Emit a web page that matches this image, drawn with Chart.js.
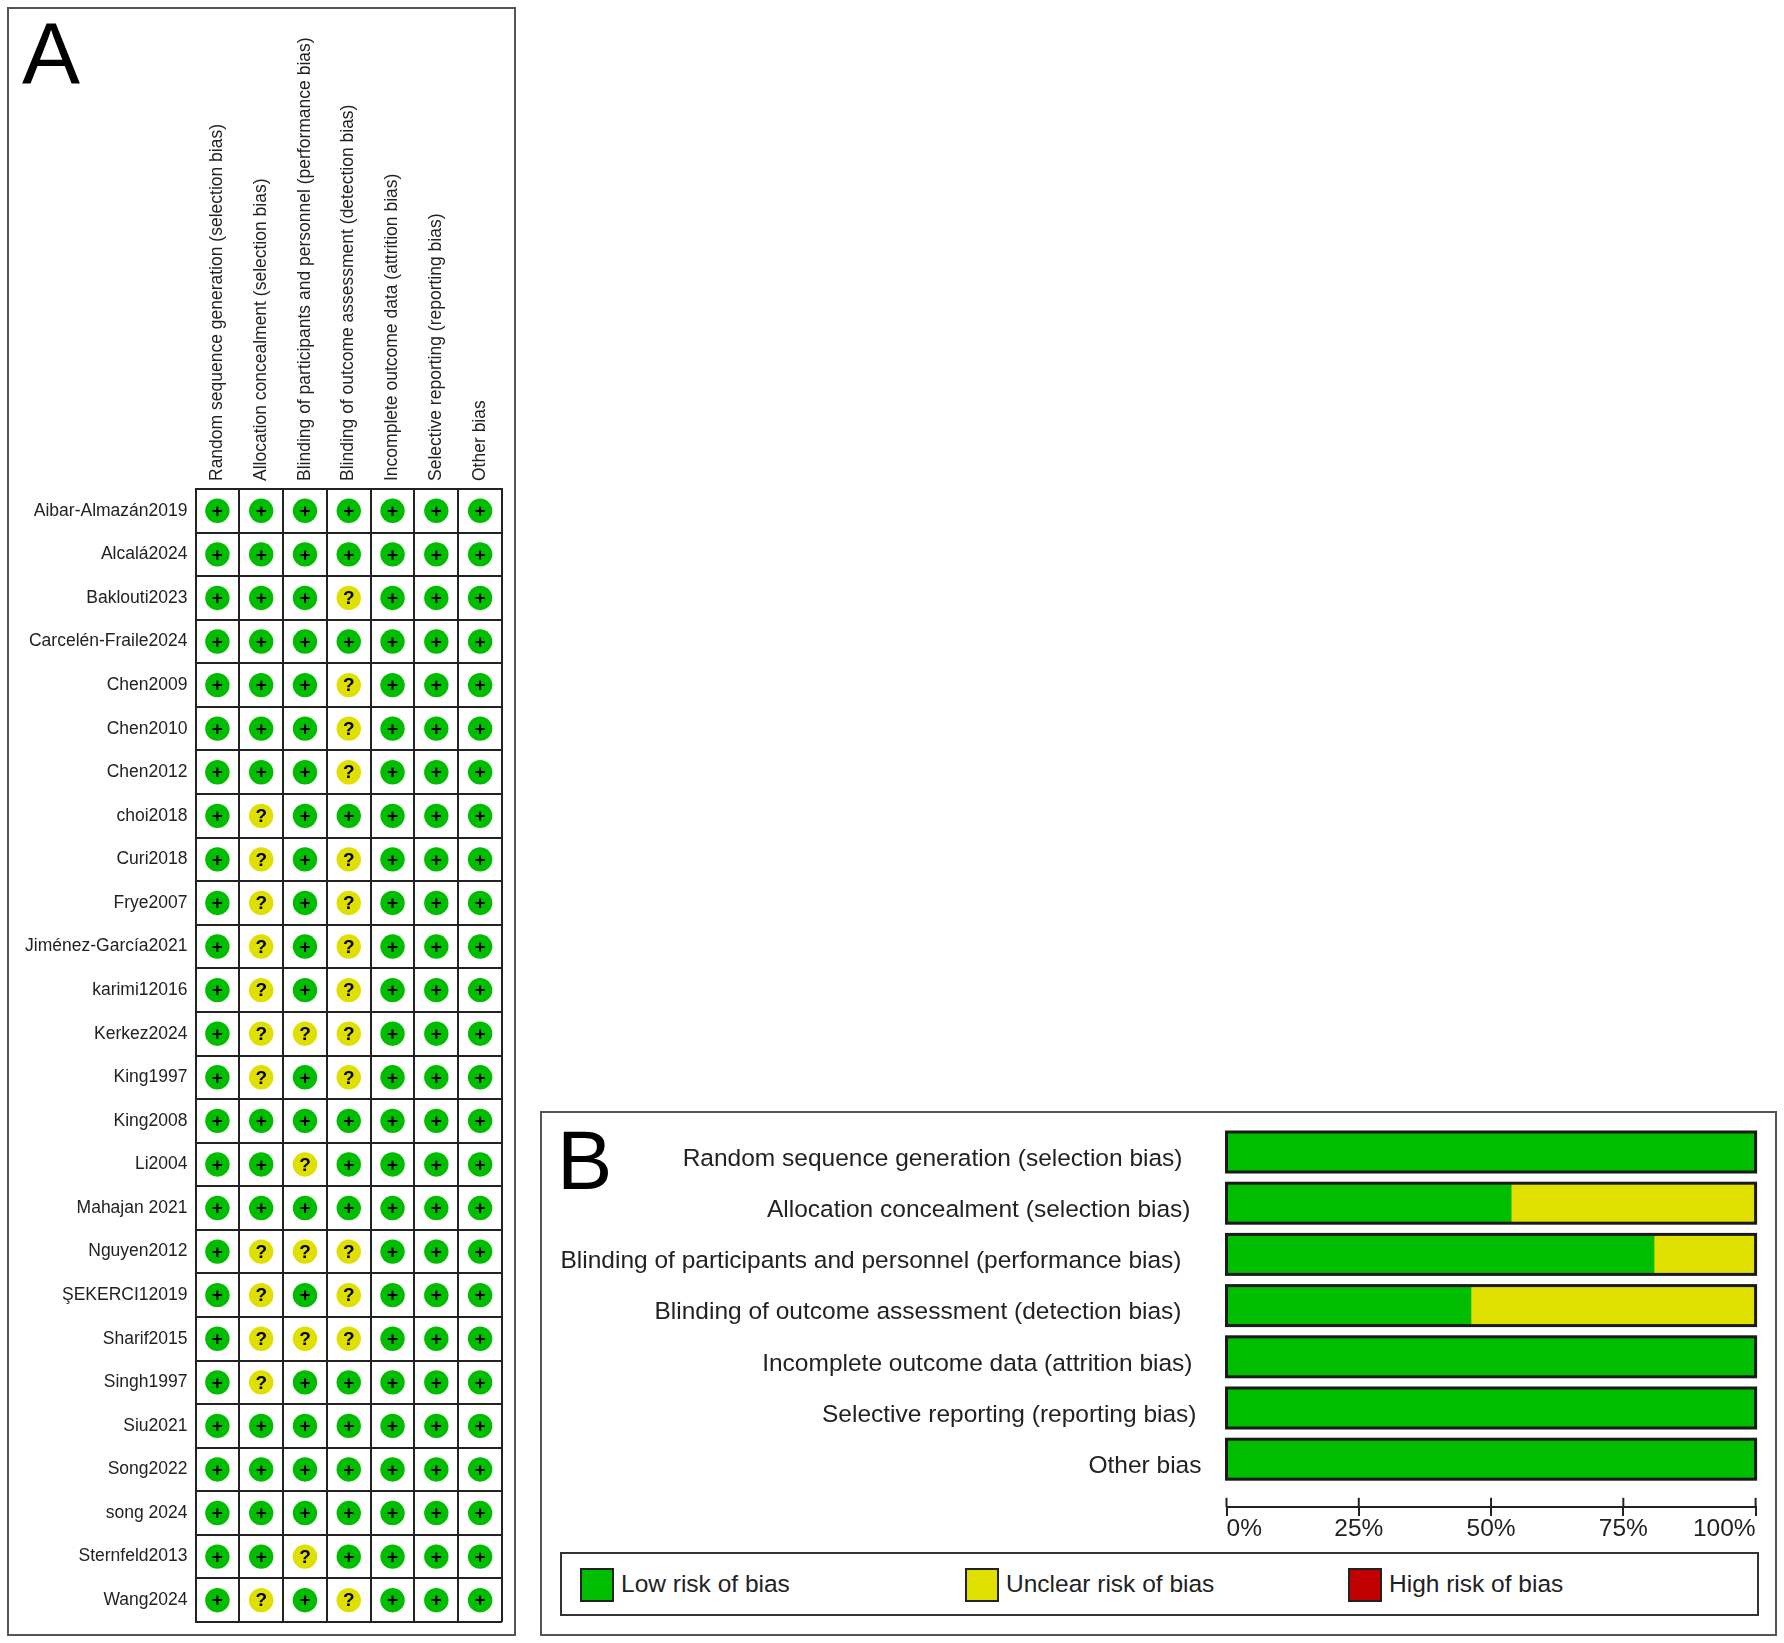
<!DOCTYPE html>
<html>
<head>
<meta charset="utf-8">
<title>Risk of bias</title>
<script src="https://cdn.jsdelivr.net/npm/chart.js@4"></script>
<style>
  html, body { margin: 0; padding: 0; background: #fff; }
  body { width: 1784px; height: 1643px; position: relative; overflow: hidden; font-family: "Liberation Sans", Arial, sans-serif; color: #222; }
  .frame { position: absolute; box-sizing: border-box; border: 2px solid #555; }
  .letter { position: absolute; color: #000; line-height: 1; }
  canvas { position: absolute; }
  #legendBox { position: absolute; box-sizing: border-box; left: 560px; top: 1552px; width: 1199px; height: 64px; border: 2px solid #333; }
  .swatch { position: absolute; box-sizing: border-box; top: 14px; width: 34px; height: 34px; border: 2px solid #222; }
  .legendText { position: absolute; top: 14px; font-size: 24.5px; line-height: 32px; white-space: nowrap; }
</style>
</head>
<body>
<div class="frame" style="left:7px;top:7px;width:509px;height:1629px"></div>
<div class="frame" style="left:540px;top:1111px;width:1237px;height:525px"></div>
<div class="letter" style="left:22px;top:10px;font-size:87px">A</div>
<div class="letter" style="left:557px;top:1119px;font-size:83px">B</div>
<canvas id="grafA" width="520" height="1643" style="left:0;top:0"></canvas>
<canvas id="grafB" width="1236" height="440" style="left:540px;top:1112px"></canvas>
<div id="legendBox"></div>
<script>
// estudos e dominios
var studies = ['Aibar-Almazán2019', 'Alcalá2024', 'Baklouti2023', 'Carcelén-Fraile2024', 'Chen2009', 'Chen2010', 'Chen2012',
    'choi2018', 'Curi2018', 'Frye2007', 'Jiménez-García2021', 'karimi12016', 'Kerkez2024', 'King1997', 'King2008', 'Li2004',
    'Mahajan 2021', 'Nguyen2012', 'ŞEKERCI12019', 'Sharif2015', 'Singh1997', 'Siu2021', 'Song2022', 'song 2024', 'Sternfeld2013', 'Wang2024'];
var domains = ['Random sequence generation (selection bias)', 'Allocation concealment (selection bias)',
    'Blinding of participants and personnel (performance bias)', 'Blinding of outcome assessment (detection bias)',
    'Incomplete outcome data (attrition bias)', 'Selective reporting (reporting bias)', 'Other bias'];

// julgamento por dominio, um por estudo (L = baixo, U = incerto)
var randomSeq = 'LLLLLLLLLLLLLLLLLLLLLLLLLL'.split('');
var allocation = 'LLLLLLLUUUUUUULLLUUUULLLLU'.split('');
var blindPart = 'LLLLLLLLLLLLULLULULULLLLUL'.split('');
var blindOutcome = 'LLULUUULUUUUUULLLUUULLLLLU'.split('');
var incomplete = 'LLLLLLLLLLLLLLLLLLLLLLLLLL'.split('');
var selective = 'LLLLLLLLLLLLLLLLLLLLLLLLLL'.split('');
var otherBias = 'LLLLLLLLLLLLLLLLLLLLLLLLLL'.split('');
var judgements = [randomSeq, allocation, blindPart, blindOutcome, incomplete, selective, otherBias];

// percentuais do painel B
var lowPct = [100, 53.8, 80.8, 46.2, 100, 100, 100];
var unclearPct = [0, 46.2, 19.2, 53.8, 0, 0, 0];
var highPct = [0, 0, 0, 0, 0, 0, 0];
var pctTicks = [0, 25, 50, 75, 100];
var legendLabels = ['Low risk of bias', 'Unclear risk of bias', 'High risk of bias'];

var GREEN = '#00bd00';
var YELLOW = '#e0e000';
var RED = '#c00000';
var FONT = '"Liberation Sans", Arial, sans-serif';

Chart.defaults.font.family = FONT;
Chart.defaults.color = '#222';

function pointsFor(code) {
    var pts = [];
    judgements.forEach(function (col, c) {
        col.forEach(function (v, s) {
            if (v === code) pts.push({ x: domains[c], y: studies[s] });
        });
    });
    return pts;
}

// Escreve + e ? dentro dos circulos
var glyphPlugin = {
    id: 'glyph',
    afterDatasetsDraw: function (chart) {
        var ctx = chart.ctx;
        ctx.save();
        ctx.fillStyle = '#000';
        ctx.font = 'bold 19px ' + FONT;
        ctx.textAlign = 'center';
        ctx.textBaseline = 'middle';
        chart.data.datasets.forEach(function (ds, d) {
            chart.getDatasetMeta(d).data.forEach(function (el) {
                ctx.fillText(ds.glyph, el.x, el.y + 1);
            });
        });
        ctx.restore();
    }
};

new Chart(document.getElementById('grafA'), {
    type: 'scatter',
    data: {
        datasets: [
            { label: 'Low', glyph: '+', data: pointsFor('L'), backgroundColor: GREEN, borderWidth: 0, pointRadius: 12.2 },
            { label: 'Unclear', glyph: '?', data: pointsFor('U'), backgroundColor: YELLOW, borderWidth: 0, pointRadius: 12.2 }
        ]
    },
    options: {
        responsive: false,
        animation: false,
        layout: { padding: { left: 0, right: 18, top: 0, bottom: 21 } },
        plugins: { legend: { display: false }, tooltip: { enabled: false } },
        scales: {
            x: {
                type: 'category',
                labels: domains,
                position: 'top',
                offset: true,
                afterFit: function (scale) { scale.height = 489; },
                grid: { offset: true, color: '#222', lineWidth: 2, drawTicks: false },
                border: { color: '#222', width: 2 },
                // lineHeight minimo para o rotulo girado ficar no centro da coluna
                ticks: { minRotation: 90, maxRotation: 90, autoSkip: false, padding: 8, font: { size: 17.5, lineHeight: 0.01 } }
            },
            y: {
                type: 'category',
                labels: studies,
                offset: true,
                afterFit: function (scale) { scale.width = 195.5; },
                grid: { offset: true, color: '#222', lineWidth: 2, drawTicks: false },
                border: { color: '#222', width: 2 },
                ticks: { autoSkip: false, padding: 8, font: { size: 17.5 } }
            }
        }
    },
    plugins: [glyphPlugin]
});

// distancia do rotulo ate a barra, o original nao alinha os rotulos
var labelGaps = [44, 36, 45, 45, 34, 30, 25];
// eixo de percentuais fica um pouco abaixo da ultima barra
var axisSlot = 6.93;

// Contorno das barras, rotulos e prolongamento dos ticks
var barExtras = {
    id: 'barExtras',
    afterDatasetsDraw: function (chart) {
        var ctx = chart.ctx;
        var x = chart.scales.x;
        var y = chart.scales.y;
        ctx.save();
        ctx.strokeStyle = '#1a1a1a';
        ctx.lineWidth = 3;
        chart.getDatasetMeta(0).data.forEach(function (el) {
            ctx.strokeRect(x.getPixelForValue(0), el.y - el.height / 2, x.getPixelForValue(100) - x.getPixelForValue(0), el.height);
        });
        ctx.fillStyle = '#222';
        ctx.font = '24.5px ' + FONT;
        ctx.textAlign = 'right';
        ctx.textBaseline = 'middle';
        domains.forEach(function (name, i) {
            ctx.fillText(name, x.left - labelGaps[i], y.getPixelForValue(i) + 7);
        });
        ctx.strokeStyle = '#222';
        ctx.lineWidth = 2;
        pctTicks.forEach(function (t) {
            var px = x.getPixelForValue(t);
            ctx.beginPath();
            ctx.moveTo(px, y.getPixelForValue(axisSlot) - 9);
            ctx.lineTo(px, y.getPixelForValue(axisSlot));
            ctx.stroke();
        });
        ctx.restore();
    }
};

new Chart(document.getElementById('grafB'), {
    type: 'bar',
    data: {
        labels: domains,
        datasets: [
            { label: legendLabels[0], data: lowPct, backgroundColor: GREEN, barThickness: 40 },
            { label: legendLabels[1], data: unclearPct, backgroundColor: YELLOW, barThickness: 40 },
            { label: legendLabels[2], data: highPct, backgroundColor: RED, barThickness: 40 }
        ]
    },
    options: {
        indexAxis: 'y',
        responsive: false,
        animation: false,
        layout: { padding: { left: 0, right: 20.4, top: 14.4, bottom: 67.2 } },
        plugins: { legend: { display: false }, tooltip: { enabled: false } },
        scales: {
            x: {
                position: { y: axisSlot },
                stacked: true,
                min: 0,
                max: 100,
                afterBuildTicks: function (scale) {
                    scale.ticks = pctTicks.map(function (t) { return { value: t }; });
                },
                grid: { drawOnChartArea: false, color: '#222', lineWidth: 2, tickLength: 8 },
                border: { color: '#222', width: 2 },
                ticks: {
                    align: 'inner',
                    maxRotation: 0,
                    padding: 0,
                    font: { size: 24.5 },
                    callback: function (v) { return v + '%'; }
                }
            },
            y: {
                stacked: true,
                afterFit: function (scale) { scale.width = 686.5; },
                grid: { display: false },
                border: { display: false },
                ticks: { display: false }
            }
        }
    },
    plugins: [barExtras]
});

// Legenda em HTML, cada item tem sua posicao no original
var legendColors = [GREEN, YELLOW, RED];
var legendLefts = [20, 405, 788];
legendLabels.forEach(function (txt, i) {
    var box = document.getElementById('legendBox');
    var sw = document.createElement('div');
    sw.className = 'swatch';
    sw.style.left = legendLefts[i] - 2 + 'px';
    sw.style.background = legendColors[i];
    box.appendChild(sw);
    var tx = document.createElement('div');
    tx.className = 'legendText';
    tx.style.left = legendLefts[i] + 39 + 'px';
    tx.textContent = txt;
    box.appendChild(tx);
});
</script>
</body>
</html>
